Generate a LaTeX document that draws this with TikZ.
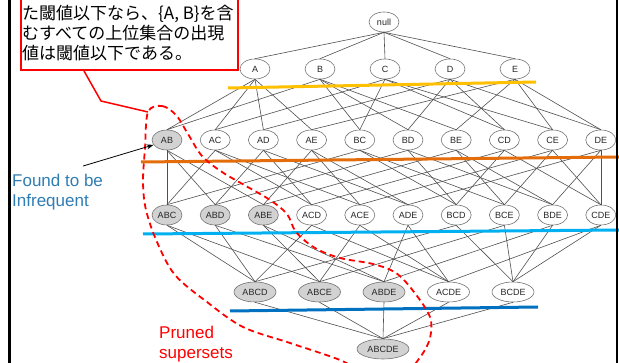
\documentclass[tikz,border=0pt]{standalone}
\usepackage{fontspec}
\setmainfont{Liberation Sans}
\newfontfamily\jpfont{Noto Sans CJK JP}
\usetikzlibrary{arrows.meta,shapes.geometric}

\definecolor{lattice}{HTML}{505050}
\definecolor{shade}{HTML}{D2D2D2}
\definecolor{cutA}{HTML}{FFC000}
\definecolor{cutB}{HTML}{E46C0A}
\definecolor{cutC}{HTML}{00B0F0}
\definecolor{cutD}{HTML}{0070C0}
\definecolor{labelblue}{HTML}{2F7DB5}

\begin{document}
\begin{tikzpicture}[
    x=1pt, y=-1pt,
    item/.style={ellipse, draw=black!55, fill=white, line width=0.6pt, inner sep=0pt,
                 minimum width=30pt, minimum height=20pt,
                 font=\fontsize{9}{10}\selectfont, text=black!85},
    wide/.style={item, minimum width=42pt},
    edge/.style={lattice, line width=0.6pt},
    cut/.style={line width=3pt},
    prune/.style={red, line width=1.8pt, dash pattern=on 6pt off 4pt},
    notebox/.style={rectangle, draw=red, line width=2pt, fill=white, inner sep=0pt},
    bigtext/.style={align=left, inner sep=0pt, font=\fontsize{17}{20}\selectfont}
  ]
    \fill[white] (0,0) rectangle (619,363);
    \useasboundingbox (0,0) rectangle (619,363);

    % lattice nodes, one row per itemset size
    \node[item] (null) at (384,22) {null};
    \foreach \n [count=\i from 0] in {A,B,C,D,E}
      \node[item] (\n) at ({255+65*\i},69) {\n};
    \foreach \n/\f [count=\i from 0] in {AB/shade,AC/white,AD/white,AE/white,BC/white,
                                         BD/white,BE/white,CD/white,CE/white,DE/white}
      \node[item, fill=\f] (\n) at ({167+48.2*\i},140) {\n};
    \foreach \n/\f [count=\i from 0] in {ABC/shade,ABD/shade,ABE/shade,ACD/white,ACE/white,
                                         ADE/white,BCD/white,BCE/white,BDE/white,CDE/white}
      \node[item, fill=\f] (\n) at ({167+48.2*\i},215) {\n};
    \foreach \n/\f [count=\i from 0] in {ABCD/shade,ABCE/shade,ABDE/shade,ACDE/white,BCDE/white}
      \node[wide, fill=\f] (\n) at ({255+64.5*\i},292) {\n};
    \node[wide, fill=shade, minimum width=52pt] (ABCDE) at (383,349) {ABCDE};

    % subset -> superset edges
    \foreach \s in {A,B,C,D,E}
      \draw[edge] (null.south) -- (\s.north);
    \foreach \t/\a/\b in {AB/A/B,AC/A/C,AD/A/D,AE/A/E,BC/B/C,BD/B/D,BE/B/E,CD/C/D,CE/C/E,DE/D/E} {
      \draw[edge] (\a.south) -- (\t.north);
      \draw[edge] (\b.south) -- (\t.north);
    }
    \foreach \t/\a/\b/\c in {ABC/AB/AC/BC,ABD/AB/AD/BD,ABE/AB/AE/BE,ACD/AC/AD/CD,ACE/AC/AE/CE,
                             ADE/AD/AE/DE,BCD/BC/BD/CD,BCE/BC/BE/CE,BDE/BD/BE/DE,CDE/CD/CE/DE} {
      \draw[edge] (\a.south) -- (\t.north);
      \draw[edge] (\b.south) -- (\t.north);
      \draw[edge] (\c.south) -- (\t.north);
    }
    \foreach \t/\a/\b/\c/\d in {ABCD/ABC/ABD/ACD/BCD,ABCE/ABC/ABE/ACE/BCE,ABDE/ABD/ABE/ADE/BDE,
                                ACDE/ACD/ACE/ADE/CDE,BCDE/BCD/BCE/BDE/CDE} {
      \draw[edge] (\a.south) -- (\t.north);
      \draw[edge] (\b.south) -- (\t.north);
      \draw[edge] (\c.south) -- (\t.north);
      \draw[edge] (\d.south) -- (\t.north);
    }
    \foreach \s in {ABCD,ABCE,ABDE,ACDE,BCDE}
      \draw[edge] (\s.south) -- (ABCDE.north);

    % level separators
    \draw[cut, cutA] (228,88) -- (536,82);
    \draw[cut, cutB] (141,162) -- (619,157);
    \draw[cut, cutC] (143,234) -- (619,230);
    \draw[cut, cutD] (230,311) -- (538,307);

    % region of pruned supersets
    \coordinate (prunetop) at (148,112);
    \draw[prune] plot[smooth cycle, tension=0.55] coordinates {
      (148,112) (162,106) (176,115) (188,134) (202,156) (222,172) (246,186) (270,200)
      (287,214) (296,232) (315,248) (340,258) (373,264) (396,273) (414,292) (430,317)
      (430,338) (421,356) (405,372) (372,376) (340,360) (290,343) (243,327) (207,302)
      (175,275) (157,242) (146,210) (143,182) (145,148)};

    % explanation box
    \node[notebox, anchor=south west, minimum width=217pt, minimum height=90pt] (note) at (20,71) {};
    \node[bigtext, font=\jpfont\fontsize{17}{20}\selectfont, anchor=north west] (notetext) at (22,5)
      {た閾値以下なら、\{A, B\}を含\\むすべての上位集合の出現\\値は閾値以下である。};
    \draw[red, line width=1.5pt] ([xshift=64pt]note.south west) -- (101,101) -- (prunetop);

    % side labels
    \node[bigtext, text=labelblue, anchor=north west] (found) at (12,174) {Found to be\\Infrequent};
    \draw[-{Stealth[length=7pt,width=5pt]}, line width=0.8pt]
      ([xshift=-20pt,yshift=8pt]found.north east) -- (AB.200);
    \node[bigtext, text=red, anchor=north west] (pruned) at (159,326) {Pruned\\supersets};

    % page rules
    \draw[black, line width=2.7pt] (9.7,-2) -- (9.7,365);
    \draw[black, line width=2pt] (616.5,-2) -- (616.5,365);
\end{tikzpicture}
\end{document}
